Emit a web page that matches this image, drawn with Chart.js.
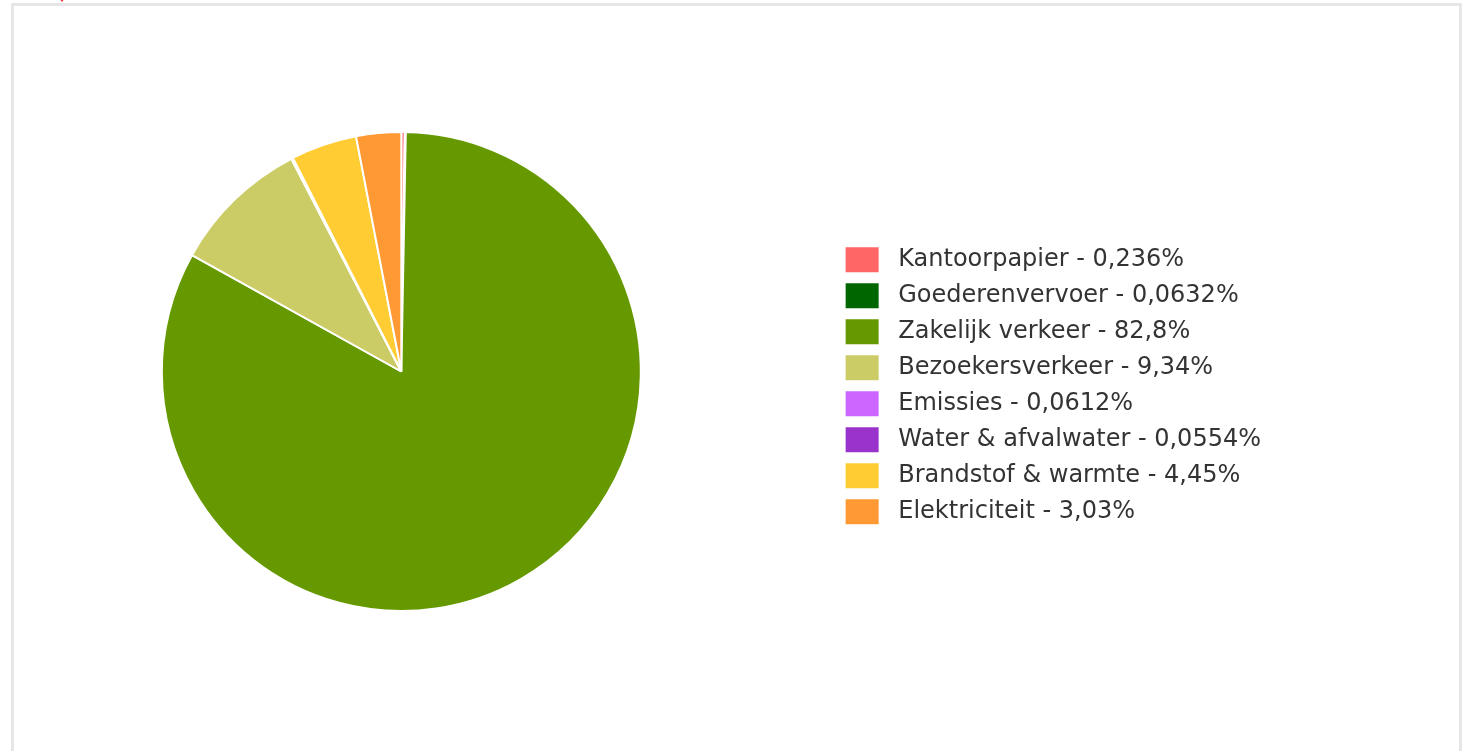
<!DOCTYPE html>
<html>
<head>
<meta charset="utf-8">
<script src="https://cdn.jsdelivr.net/npm/chart.js@4.4.0/dist/chart.umd.min.js"></script>
<style>
  html, body { margin: 0; padding: 0; background: #fff; overflow: hidden; }
  #frame {
    position: absolute; left: 11px; top: 3px; width: 1445px; height: 800px;
    border: 3px solid #e6e6e6; box-sizing: content-box;
  }
  #marker {
    position: absolute; left: 59px; top: -2px; width: 0; height: 0;
    border-left: 3px solid transparent; border-right: 3px solid transparent;
    border-top: 4px solid #e8322b;
  }
  #wrap { position: absolute; left: -32px; top: 0; width: 1501px; height: 751px; }
</style>
</head>
<body>
<div id="frame"></div>
<div id="marker"></div>
<div id="wrap"><canvas id="pieChart"></canvas></div>
<script>
const categories = [
  "Kantoorpapier",
  "Goederenvervoer",
  "Zakelijk verkeer",
  "Bezoekersverkeer",
  "Emissies",
  "Water & afvalwater",
  "Brandstof & warmte",
  "Elektriciteit",
];
const shares = [0.236, 0.0632, 82.8, 9.34, 0.0612, 0.0554, 4.45, 3.03];
const sliceColors = [
  "#ff6666",
  "#006600",
  "#669900",
  "#cccc66",
  "#cc66ff",
  "#9933cc",
  "#ffcc33",
  "#ff9933",
];

function formatShare(n) {
  return String(n).replace(".", ",") + "%";
}

new Chart(document.getElementById("pieChart"), {
  type: "pie",
  data: {
    labels: categories,
    datasets: [
      {
        data: shares,
        backgroundColor: sliceColors,
        borderColor: "#ffffff",
        borderWidth: 2,
      },
    ],
  },
  options: {
    responsive: true,
    maintainAspectRatio: false,
    animation: false,
    layout: { padding: { top: 131, bottom: 139, left: 0, right: 198 } },
    plugins: {
      tooltip: { enabled: false },
      legend: {
        position: "right",
        // empty title only pushes the list down a bit
        title: { display: true, text: "", font: { size: 12 }, padding: 7 },
        labels: {
          color: "#333333",
          font: { family: "DejaVu Sans", size: 24 },
          boxWidth: 33,
          boxHeight: 25,
          padding: 11,
          generateLabels: (chart) =>
            categories.map((c, i) => ({
              text: " " + c + " - " + formatShare(shares[i]),
              fillStyle: sliceColors[i],
              strokeStyle: sliceColors[i],
              lineWidth: 0,
              fontColor: "#333333",
              index: i,
            })),
        },
      },
    },
  },
});
</script>
</body>
</html>
